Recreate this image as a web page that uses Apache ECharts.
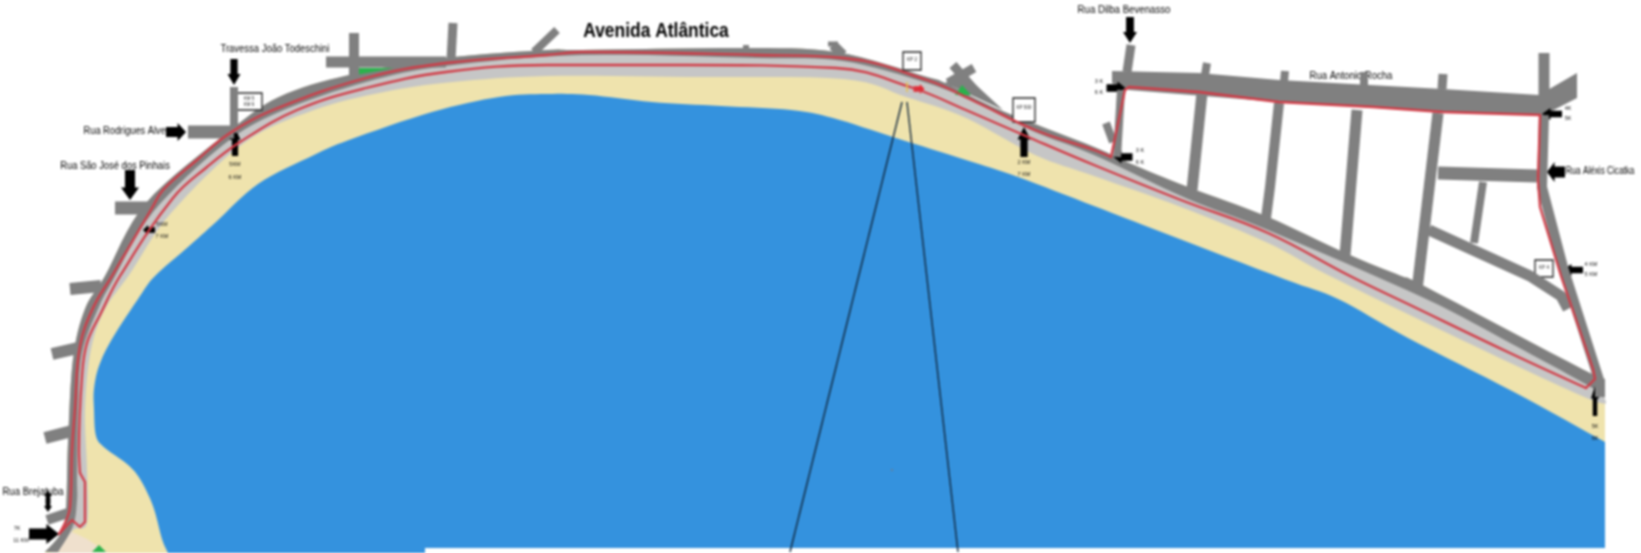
<!DOCTYPE html>
<html><head><meta charset="utf-8">
<style>html,body{margin:0;padding:0;background:#fff}#c{width:1641px;height:553px;filter:blur(0.9px)}</style>
<script src="https://cdn.jsdelivr.net/npm/echarts@6/dist/echarts.min.js"></script>
</head><body><div id="c"></div>
<script>
const roadEdge=[[45,552],[61,533],[66,509],[68,443],[73,359],[85,309],[105,276],[146,203],[227,133],[279,97],[349,75],[446,58],[547,50],[582,50],[739,48],[836,52],[927,77],[945,83],[1000,110],[1094,147],[1129,163],[1188,187],[1268,217],[1345,253],[1401,276],[1424,286],[1582,369],[1605,379]];
const roadInner=[[1605,396],[1582,382],[1512,344],[1424,298],[1268,230],[1188,199],[1094,155],[1035,132],[976,103],[927,83],[843,61],[756,58],[582,55],[446,66],[366,82],[279,112],[223,145],[153,212],[113,280],[98,309],[82,353],[78,409],[77,476],[77,500],[73,526],[58,552]];
const sandTop=[[1605,398],[1589,399],[1443,331],[1328,275],[1268,243],[1181,207],[1094,176],[1035,155],[966,118],[906,97],[843,79],[687,77],[547,76],[453,82],[384,92],[314,110],[244,143],[171,213],[129,275],[105,309],[91,349],[85,409],[87,470],[87,523],[73,530],[58,552]];
const seaEdge=[[168,553],[162,539],[153,506],[140,479],[127,464],[105,448],[96,436],[94,409],[94,389],[99,366],[112,339],[140,296],[155,276],[188,247],[216,222],[258,184],[314,155],[349,140],[432,112],[499,97],[547,94],[589,95],[652,102],[721,106],[791,110],[833,118],[896,138],[966,160],[1018,177],[1094,206],[1164,233],[1284,279],[1338,299],[1408,338],[1512,391],[1605,442]];
const seaTail=[[1605,548],[425,548],[425,553]];
const sandBase=[[1605,548],[425,548],[425,553],[45,553]];
const peach=[[68,530],[87,539],[108,553],[50,553]];
const rochaBand=[[1112,71],[1199,73],[1279,80],[1443,89],[1539,95],[1577,73],[1577,98],[1544,115],[1443,112],[1279,102],[1129,90],[1112,83]];
const xJunction=[[962,72],[945,83],[1003,110]];
const greenA=[[356,68],[394,68],[356,75]];
const greenB=[[962,85],[955,95],[971,95]];
const greenC=[[92,552],[99,545],[106,552]];
const routeWest=[[59,534],[70,507],[72,450],[75,409],[80,346],[94,306],[112,276],[152,208],[163,190],[197,160],[230,133],[273,110],[366,78],[446,63],[547,55],[582,52],[756,55],[843,58],[927,80],[976,102],[1035,130],[1094,150],[1111,157]];
const routeRocha=[[1111,157],[1125,90],[1129,87],[1199,92],[1279,102],[1373,107],[1443,112],[1540,115],[1538,180],[1540,207],[1561,276],[1593,369],[1595,379],[1586,388]];
const routeReturn=[[1586,388],[1512,354],[1408,304],[1350,276],[1268,233],[1181,200],[1094,165],[1035,140],[966,110],[913,88],[836,68],[687,65],[547,65],[446,72],[366,88],[297,110],[240,142],[207,167],[173,198],[120,276],[101,313],[87,343],[82,376],[79,450],[80,473]];
const routeTurn=[[80,473],[85,482],[85,522],[80,527],[72,520],[59,534]];
const sideStreets=[
 {w:8,p:[[234,87],[234,133]]},{w:13,p:[[188,132],[234,132]]},{w:13,p:[[115,208],[150,208]]},
 {w:11,p:[[326,62],[446,62]]},{w:10,p:[[354,33],[354,78]]},{w:9,p:[[453,23],[451,60]]},{w:8,p:[[557,30],[534,52]]},
 {w:12,p:[[70,289],[101,286]]},{w:12,p:[[52,354],[78,348]]},{w:12,p:[[45,438],[72,431]]},{w:10,p:[[47,520],[68,513]]},
 {w:6,p:[[746,45],[746,50]]},{w:10,p:[[833,45],[843,55]]},{w:5,p:[[828,44],[838,44]]},
 {w:9,p:[[953,65],[976,92]]},{w:9,p:[[974,68],[948,83]]},
 {w:9,p:[[1131,45],[1127,72]]},{w:8,p:[[1207,63],[1205,75]]},{w:8,p:[[1285,71],[1284,82]]},{w:8,p:[[1364,72],[1364,85]]},{w:9,p:[[1443,74],[1442,89]]},{w:11,p:[[1544,53],[1544,95]]},
 {w:8,p:[[1121,90],[1117,157]]},{w:8,p:[[1106,123],[1113,142]]},
 {w:11,p:[[1202,93],[1192,190]]},{w:10,p:[[1279,103],[1270,187],[1266,218]]},{w:11,p:[[1357,110],[1345,255]]},{w:11,p:[[1438,113],[1417,290]]},
 {w:13,p:[[1438,173],[1537,176]]},{w:8,p:[[1483,182],[1474,243]]},{w:11,p:[[1429,230],[1530,276],[1561,296],[1568,309]]},
 {w:10,p:[[1544,115],[1542,187],[1563,267],[1600,383],[1600,397]]}
];
const pierLeft=[[902,102],[790,552]];
const pierRight=[[907,102],[958,552]];
const seaDot=[[892,469],[892,471]];
const signBoxes=[[[237,93],[262,93],[262,110],[237,110]],[[903,52],[921,52],[921,70],[903,70]],[[1013,98],[1035,98],[1035,122],[1013,122]],[[1535,260],[1553,260],[1553,277],[1535,277]]];
const arrows=[[234,72,180,13,26],[176,132,-90,18,20],[130,185,180,18,30],[235,142,0,11,28],[149,230,90,10,12],[48,497,0,8,13],[48,505,180,8,14],[44,534,-90,20,30],[1024,142,0,13,30],[1130,30,180,14,26],[1116,88,-90,13,19],[1123,157,90,13,19],[1552,114,90,12,20],[1556,172,90,20,18],[1573,270,90,12,20],[1595,401,0,8,30]];
const redArrow=[[919,89,-90,10,11]];
const yellowTick=[[907,82],[907,92]];
const titleLabel=[[656,31,'Avenida Atlântica',0.83]];
const streetLabels=[[275,49,'Travessa João Todeschini',0.9],[127,131,'Rua Rodrigues Alves',0.88],[115,166,'Rua São José dos Pinhais',0.89],[33,492,'Rua Brejatuba',0.91],[1124,10,'Rua Dilba Bevenasso',0.92],[1351,76,'Rua Antonio Rocha',0.91],[1600,171,'Rua Aléxis Cicatka',0.78]];
const kmLabels=[[235,164,'5KM',1],[235,177,'6 KM',1],[162,224,'5KM',1],[162,236,'7 KM',1],[17,528,'7K',1],[21,540,'11 KM',1],[1024,162,'2 KM',1],[1024,174,'7 KM',1],[1099,81,'3 K',1],[1099,92,'6 K',1],[1140,150,'3 K',1],[1140,162,'6 K',1],[1568,108,'4K',1],[1568,118,'5K',1],[1591,264,'4 KM',1],[1591,274,'5 KM',1],[1595,426,'5K',1],[1595,438,'6K',1]];
const signLabels=[[249,99,'KM 5',1],[249,105,'KM 6',1],[912,60,'KP 2',1],[1024,108,'KP 500',1],[1544,268,'KP 4',1]];

const FONT='"Liberation Sans",sans-serif';
// curve through pixel points (Catmull-Rom), used only to draw outlines as curves
function curve(px){const out=[];for(let i=0;i<px.length-1;i++){const a=px[Math.max(i-1,0)],b=px[i],c=px[i+1],d=px[Math.min(i+2,px.length-1)];
  for(let k=0;k<8;k++){const t=k/8,t2=t*t,t3=t2*t;
    out.push([0,1].map(j=>0.5*(2*b[j]+(c[j]-a[j])*t+(2*a[j]-5*b[j]+4*c[j]-d[j])*t2+(3*b[j]-a[j]-3*c[j]+d[j])*t3)));}}
  out.push(px[px.length-1]);return out;}
function poly(parts,fill,stroke){return {type:'custom',coordinateSystem:'cartesian2d',silent:true,clip:false,data:[[0,0]],
  renderItem:(p,api)=>{let pts=[];parts.forEach(s=>{const px=s.p.map(q=>api.coord(q));pts=pts.concat(s.c?curve(px):px);});
    return {type:'polygon',shape:{points:pts},style:{fill:fill,stroke:stroke||null,lineWidth:stroke?1.3:0}};}};}
const S=p=>({p:p}),C=p=>({p:p,c:true});
function line(pts,color,w,smooth,cap){return {type:'line',data:pts,showSymbol:false,symbol:'none',silent:true,clip:false,smooth:smooth||false,lineStyle:{color:color,width:w,cap:cap||'butt',join:'round'}};}
function text(list,size,color,weight){return {type:'custom',coordinateSystem:'cartesian2d',silent:true,clip:false,data:list.map(d=>[d[0],d[1]]),
  renderItem:(p,api)=>{const d=list[p.dataIndex],xy=api.coord([d[0],d[1]]);
    return {type:'text',x:xy[0],y:xy[1],scaleX:d[3],style:{text:d[2],fontFamily:FONT,fontSize:size,fontWeight:weight||'normal',fill:color,textAlign:'center',textVerticalAlign:'middle',align:'center',verticalAlign:'middle'}};}};}
function arrowSeries(list,color){return {type:'scatter',data:list,silent:true,clip:false,
  symbol:'path://M50,0 L100,42 L78,42 L78,100 L22,100 L22,42 L0,42 Z',symbolKeepAspect:false,
  symbolRotate:(v)=>v[2],symbolSize:(v)=>[v[3],v[4]],itemStyle:{color:color,opacity:1}};}
const RED='#d23a45';
const series=[
  poly([C(roadEdge),S(sandBase)],'#efe3ad'),
  poly([S(peach)],'#efe0cd'),
  poly([C(seaEdge),S(seaTail)],'#3492de'),
  poly([C(roadEdge),C(sandTop)],'#c6c6c6'),
  ...sideStreets.map(s=>line(s.p,'#808080',s.w)),
  poly([S(rochaBand)],'#808080'),poly([S(xJunction)],'#808080'),
  poly([C(roadEdge),C(roadInner)],'#808080'),
  poly([S(greenA)],'#2bb24c'),poly([S(greenB)],'#2bb24c'),poly([S(greenC)],'#2bb24c'),
  line(pierLeft,'#10263c',1.4),line(pierRight,'#10263c',1.4),line(seaDot,'#5f7f9f',2),
  ...signBoxes.map(b=>poly([S(b)],'#fff','#222')),
  line(routeWest,RED,2.3,0.4,'round'),line(routeRocha,RED,2.3,false,'round'),line(routeReturn,RED,2.3,0.4,'round'),line(routeTurn,RED,2.3,false,'round'),
  line(yellowTick,'#e8c24a',1.5),
  arrowSeries(arrows,'#000'),arrowSeries(redArrow,'#e8262f'),
  text(titleLabel,21,'#000','bold'),text(streetLabels,10.5,'#000'),text(kmLabels,5.5,'#111'),text(signLabels,4.5,'#222')
];
const chart=echarts.init(document.getElementById('c'),null,{renderer:'canvas'});
chart.setOption({animation:false,backgroundColor:'#fff',tooltip:{show:false},legend:{show:false},
  grid:{left:0,right:0,top:0,bottom:0,containLabel:false},
  xAxis:{type:'value',min:0,max:1641,show:false},
  yAxis:{type:'value',min:0,max:553,inverse:true,show:false},
  series:series});
</script></body></html>
